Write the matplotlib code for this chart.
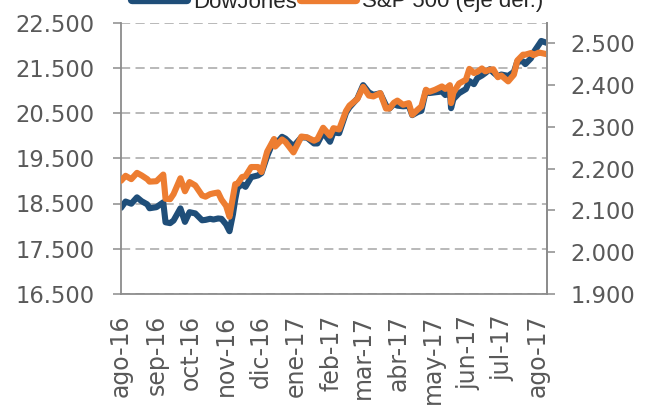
import matplotlib
matplotlib.use("Agg")
import matplotlib.pyplot as plt
from matplotlib.ticker import FuncFormatter, FixedLocator
import pandas as pd

dates = ["2016-08-01","2016-08-05","2016-08-10","2016-08-15","2016-08-19","2016-08-24","2016-08-26",
         "2016-09-01","2016-09-07","2016-09-09","2016-09-13","2016-09-16","2016-09-22","2016-09-26","2016-09-30",
         "2016-10-05","2016-10-11","2016-10-14","2016-10-18","2016-10-21","2016-10-25","2016-10-28",
         "2016-11-01","2016-11-04","2016-11-07","2016-11-09","2016-11-11","2016-11-15","2016-11-18","2016-11-23","2016-11-29",
         "2016-12-02","2016-12-07","2016-12-13","2016-12-14","2016-12-20","2016-12-23","2016-12-30",
         "2017-01-06","2017-01-11","2017-01-17","2017-01-20","2017-01-25","2017-01-31",
         "2017-02-03","2017-02-08","2017-02-14","2017-02-17","2017-02-24",
         "2017-03-01","2017-03-06","2017-03-10","2017-03-16","2017-03-21","2017-03-24","2017-03-28","2017-03-31",
         "2017-04-05","2017-04-10","2017-04-13","2017-04-18","2017-04-21","2017-04-25","2017-04-28",
         "2017-05-03","2017-05-09","2017-05-12","2017-05-16","2017-05-17","2017-05-19","2017-05-24","2017-05-30",
         "2017-06-02","2017-06-06","2017-06-09","2017-06-13","2017-06-16","2017-06-20","2017-06-23","2017-06-27","2017-06-30",
         "2017-07-06","2017-07-11","2017-07-14","2017-07-19","2017-07-21","2017-07-26","2017-07-28",
         "2017-08-02","2017-08-04","2017-08-09"]

dowjones = [18404,18543,18496,18636,18552,18481,18395,
            18419,18526,18085,18066,18123,18392,18094,18308,
            18281,18129,18138,18162,18146,18169,18161,
            18037,17888,18260,18589,18847,18923,18868,19083,19121,
            19171,19549,19911,19792,19974,19934,19763,
            19964,19954,19827,19827,20069,19864,
            20071,20054,20504,20624,20822,
            21116,20955,20903,20935,20669,20597,20701,20663,
            20648,20658,20453,20524,20548,20996,20941,
            20957,20975,20897,20980,20607,20805,20938,21029,
            21206,21137,21272,21329,21384,21468,21395,21311,21350,
            21320,21409,21638,21641,21580,21711,21830,
            22016,22092,22048]

sp500 = [2171,2183,2175,2190,2184,2175,2169,
         2170,2186,2128,2127,2139,2177,2146,2168,
         2160,2136,2133,2139,2141,2143,2126,
         2111,2085,2132,2163,2164,2180,2182,2204,2204,
         2192,2241,2271,2253,2270,2264,2239,
         2277,2275,2267,2271,2298,2279,
         2297,2294,2338,2351,2367,
         2396,2375,2373,2381,2344,2344,2358,2363,
         2353,2357,2329,2342,2349,2389,2384,
         2389,2397,2391,2400,2357,2382,2404,2413,
         2439,2429,2432,2440,2433,2437,2438,2419,2423,
         2409,2425,2459,2473,2473,2477,2472,
         2478,2477,2474]

month_ticks = ["2016-08-01","2016-09-01","2016-10-01","2016-11-01","2016-12-01","2017-01-01",
               "2017-02-01","2017-03-01","2017-04-01","2017-05-01","2017-06-01","2017-07-01","2017-08-01"]
month_labels = ["ago-16","sep-16","oct-16","nov-16","dic-16","ene-17","feb-17",
                "mar-17","abr-17","may-17","jun-17","jul-17","ago-17"]

left_ticks = [16500, 17500, 18500, 19500, 20500, 21500, 22500]
right_ticks = [1900, 2000, 2100, 2200, 2300, 2400, 2500]

blue = "#1F4E79"
orange = "#ED7D31"
gray_txt = "#595959"
spine_c = "#8C8C8C"
grid_c = "#A6A6A6"

x = pd.to_datetime(dates)

fig = plt.figure(figsize=(6.5, 4.05), dpi=100)
ax = fig.add_axes([121/650, 1-294/405, (547-121)/650, (294-22.5)/405])
ax2 = ax.twinx()

l1, = ax.plot(x, dowjones, color=blue, lw=4.4, solid_joinstyle="round", solid_capstyle="round", label="DowJones")
l2, = ax2.plot(x, sp500, color=orange, lw=4.4, solid_joinstyle="round", solid_capstyle="round", label="S&P 500 (eje der.)")

ax.set_xlim(pd.Timestamp("2016-08-01"), pd.Timestamp("2017-08-09"))
ax.set_ylim(16500, 22500)
ax2.set_ylim(1900, 2550)

fmt = FuncFormatter(lambda v, p: f"{v:,.0f}".replace(",", "."))
ax.yaxis.set_major_locator(FixedLocator(left_ticks))
ax.yaxis.set_major_formatter(fmt)
ax2.yaxis.set_major_locator(FixedLocator(right_ticks))
ax2.yaxis.set_major_formatter(fmt)

ax.set_xticks(pd.to_datetime(month_ticks))
ax.set_xticklabels(month_labels, rotation=90, family="DejaVu Sans", fontsize=17, color=gray_txt)
ax.tick_params(axis="x", length=0, pad=15)

ax.tick_params(axis="y", direction="out", length=6, width=1.1, color=spine_c, pad=13,
               labelsize=16.3, labelcolor=gray_txt)
ax2.tick_params(axis="y", direction="out", length=6, width=1.1, color=spine_c, pad=11,
                labelsize=16.3, labelcolor=gray_txt)
for lab in ax.get_yticklabels() + ax2.get_yticklabels():
    lab.set_family("DejaVu Sans")

ax.yaxis.grid(True, color=grid_c, lw=1.1, linestyle=(0, (6, 3.5)))
ax.set_axisbelow(True)

for a in (ax, ax2):
    a.spines["top"].set_visible(False)
    for s in ("left", "right", "bottom"):
        a.spines[s].set_color(spine_c)
        a.spines[s].set_linewidth(1.3)
ax2.spines["left"].set_visible(False)
ax2.spines["bottom"].set_visible(False)

leg = fig.legend(handles=[l1, l2], loc="center", bbox_to_anchor=(0.519, 1 - 2/405),
                 ncol=2, frameon=False, prop={"family": "Liberation Sans", "size": 16},
                 handlelength=2.5, handletextpad=0.25, columnspacing=0.2, borderpad=0)
for t in leg.get_texts():
    t.set_color("#262626")
for h in leg.legend_handles:
    h.set_linewidth(6)
    h.set_solid_capstyle("round")

fig.savefig("out.png", dpi=100)
